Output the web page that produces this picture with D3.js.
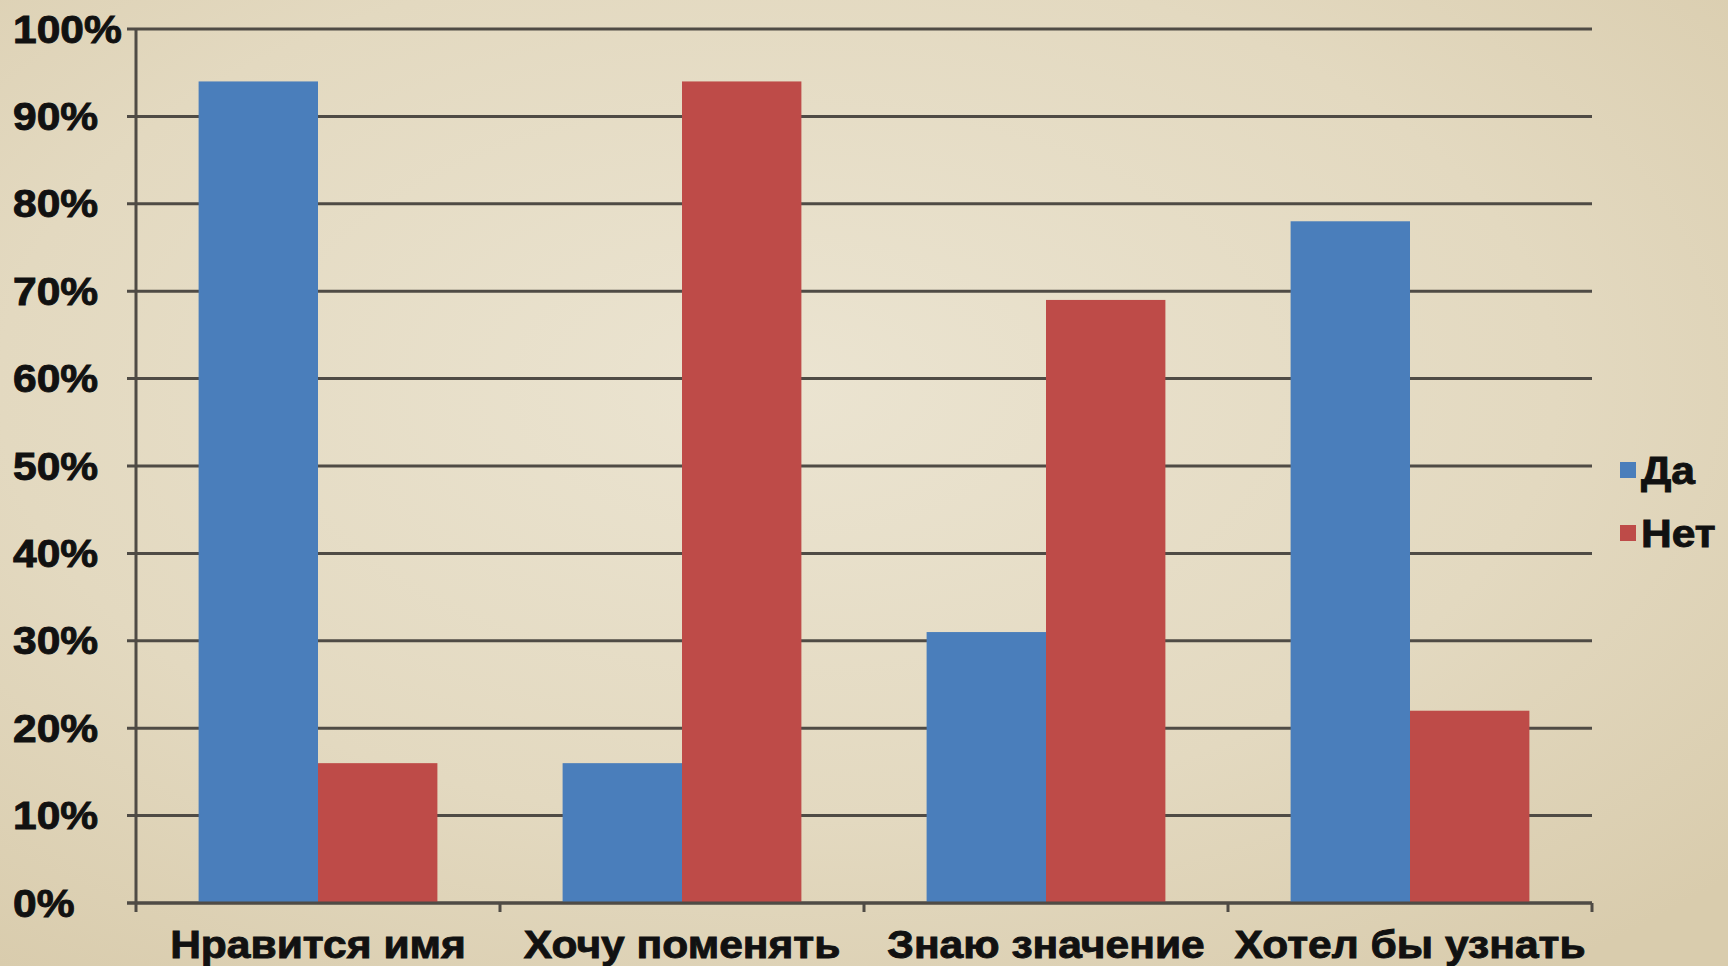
<!DOCTYPE html>
<html>
<head>
<meta charset="utf-8">
<script src="https://cdn.jsdelivr.net/npm/d3@7"></script>
<style>
  html, body { margin: 0; padding: 0; overflow: hidden; }
  body { width: 1728px; height: 966px; }
  text { font-family: "Liberation Sans", Arial, sans-serif; font-weight: bold; fill: #111; stroke: #111; stroke-width: 0.9px; }
</style>
</head>
<body>
<div id="chart"></div>
<script>
// Chart data
var categories = ["Нравится имя", "Хочу поменять", "Знаю значение", "Хотел бы узнать"];
var seriesNames = ["Да", "Нет"];
var daValues = [94, 16, 31, 78];
var netValues = [16, 94, 69, 22];
var yTicks = [0, 10, 20, 30, 40, 50, 60, 70, 80, 90, 100];
var seriesColors = ["#4a7ebb", "#be4b48"];

var width = 1728, height = 966;
var plotLeft = 136, plotRight = 1592, plotTop = 29, plotBottom = 903;

var svg = d3.select("#chart")
  .append("svg")
  .attr("width", width)
  .attr("height", height);

// Parchment background
var defs = svg.append("defs");
var grad = defs.append("radialGradient")
  .attr("id", "paper")
  .attr("cx", "45%").attr("cy", "40%").attr("r", "75%");
grad.append("stop").attr("offset", "0%").attr("stop-color", "#ebe4d1");
grad.append("stop").attr("offset", "60%").attr("stop-color", "#e3d9c0");
grad.append("stop").attr("offset", "100%").attr("stop-color", "#d9ccad");

svg.append("rect")
  .attr("width", width)
  .attr("height", height)
  .attr("fill", "url(#paper)");

// Scales
var x0 = d3.scaleBand()
  .domain(categories)
  .range([plotLeft, plotRight])
  .padding(0);

var gap = x0.bandwidth() * 0.172;
var x1 = d3.scaleBand()
  .domain(seriesNames)
  .range([gap, x0.bandwidth() - gap]);

var y = d3.scaleLinear()
  .domain([0, 100])
  .range([plotBottom, plotTop]);

// Gridlines
svg.append("g")
  .selectAll("line")
  .data(yTicks)
  .enter().append("line")
  .attr("x1", plotLeft - 9)
  .attr("x2", plotRight)
  .attr("y1", function (d) { return y(d); })
  .attr("y2", function (d) { return y(d); })
  .attr("stroke", "#4f4b45")
  .attr("stroke-width", 3);

// Y labels (slightly widened to match the original's heavy face)
svg.append("g")
  .selectAll("text")
  .data(yTicks)
  .enter().append("text")
  .attr("transform", function (d) { return "translate(13," + y(d) + ") scale(1.12,1)"; })
  .attr("dy", "0.36em")
  .style("font-size", "38px")
  .text(function (d) { return d + "%"; });

// Bars
var data = categories.map(function (c, i) {
  return { cat: c, values: [
    { name: seriesNames[0], value: daValues[i] },
    { name: seriesNames[1], value: netValues[i] }
  ]};
});

var color = d3.scaleOrdinal().domain(seriesNames).range(seriesColors);

svg.append("g")
  .selectAll("g")
  .data(data)
  .enter().append("g")
  .attr("transform", function (d) { return "translate(" + x0(d.cat) + ",0)"; })
  .selectAll("rect")
  .data(function (d) { return d.values; })
  .enter().append("rect")
  .attr("x", function (d) { return x1(d.name); })
  .attr("width", x1.bandwidth())
  .attr("y", function (d) { return y(d.value); })
  .attr("height", function (d) { return plotBottom - y(d.value); })
  .attr("fill", function (d) { return color(d.name); });

// Axis lines
svg.append("line")
  .attr("x1", plotLeft).attr("x2", plotLeft)
  .attr("y1", plotTop).attr("y2", plotBottom)
  .attr("stroke", "#4f4b45").attr("stroke-width", 3);

svg.append("line")
  .attr("x1", plotLeft - 9).attr("x2", plotRight)
  .attr("y1", plotBottom).attr("y2", plotBottom)
  .attr("stroke", "#4f4b45").attr("stroke-width", 3);

// Category tick marks
var tickXs = categories.map(function (c) { return x0(c); }).concat([plotRight]);
svg.append("g")
  .selectAll("line")
  .data(tickXs)
  .enter().append("line")
  .attr("x1", function (d) { return d; })
  .attr("x2", function (d) { return d; })
  .attr("y1", plotBottom)
  .attr("y2", plotBottom + 9)
  .attr("stroke", "#4f4b45")
  .attr("stroke-width", 3);

// Category labels
svg.append("g")
  .selectAll("text")
  .data(categories)
  .enter().append("text")
  .attr("transform", function (d) { return "translate(" + (x0(d) + x0.bandwidth() / 2) + ",958) scale(1.12,1)"; })
  .attr("text-anchor", "middle")
  .style("font-size", "38px")
  .text(function (d) { return d; });

// Legend
var legend = svg.append("g")
  .selectAll("g")
  .data(seriesNames)
  .enter().append("g")
  .attr("transform", function (d, i) { return "translate(1620," + (470 + i * 63) + ")"; });

legend.append("rect")
  .attr("x", 0)
  .attr("y", -8)
  .attr("width", 16)
  .attr("height", 16)
  .attr("fill", function (d) { return color(d); });

legend.append("text")
  .attr("transform", "translate(21,0) scale(1.12,1)")
  .attr("dy", "0.36em")
  .style("font-size", "38px")
  .text(function (d) { return d; });
</script>
</body>
</html>
